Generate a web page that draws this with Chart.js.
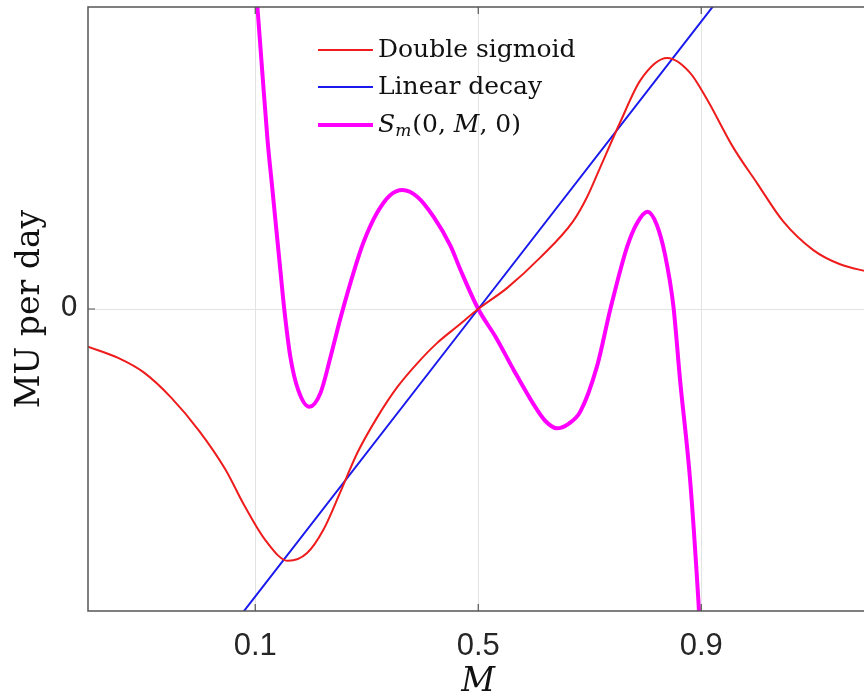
<!DOCTYPE html>
<html>
<head>
<meta charset="utf-8">
<script src="https://cdn.jsdelivr.net/npm/chart.js@4.4.0/dist/chart.umd.min.js"></script>
<style>
  html, body { margin: 0; padding: 0; overflow: hidden; background: #fff; }
  #wrap { width: 880px; height: 695px; }
</style>
</head>
<body>
<div id="wrap"><canvas id="chart" width="880" height="695"></canvas></div>
<script>
// values (y in arbitrary units, 0 at centre)
const sigmoidX = [-0.2, -0.146, -0.1, -0.05, 0.0, 0.046, 0.082, 0.118, 0.159, 0.193, 0.222, 0.252, 0.283, 0.319, 0.355, 0.391, 0.426, 0.462, 0.5,
  0.552, 0.611, 0.67, 0.695, 0.719, 0.755, 0.791, 0.839, 0.88, 0.911, 0.957, 1.0, 1.047, 1.101, 1.149, 1.2];
const sigmoidY = [-0.125, -0.162, -0.21, -0.295, -0.405, -0.53, -0.656, -0.765, -0.834, -0.808, -0.732, -0.609, -0.477, -0.358, -0.258, -0.179, -0.113, -0.058, 0,
  0.07, 0.17, 0.29, 0.37, 0.47, 0.62, 0.758, 0.831, 0.782, 0.692, 0.536, 0.417, 0.29, 0.195, 0.148, 0.123];

const linearX = [0.0, 0.5, 1.0];
const linearY = [-1.19, 0, 1.19];

const smX = [0.09, 0.104, 0.112, 0.122, 0.13, 0.138, 0.145, 0.152, 0.163, 0.177, 0.197, 0.217, 0.235, 0.252, 0.276, 0.294, 0.319, 0.342, 0.364,
  0.391, 0.42, 0.45, 0.468, 0.5, 0.532, 0.563, 0.599, 0.62, 0.641, 0.662, 0.683, 0.713, 0.737, 0.767, 0.785, 0.8035, 0.82, 0.835, 0.85, 0.862, 0.88, 0.895, 0.905];
const smY = [1.35, 0.997, 0.80, 0.56, 0.41, 0.26, 0.129, 0.0, -0.159, -0.268, -0.324, -0.278, -0.159, -0.036, 0.119, 0.22, 0.32, 0.377, 0.394,
  0.371, 0.305, 0.21, 0.13, 0, -0.095, -0.2, -0.315, -0.37, -0.395, -0.38, -0.34, -0.19, 0.0, 0.206, 0.285, 0.322, 0.28, 0.18, 0.01, -0.235, -0.566, -0.97, -1.3];

const seriesLabels = ['Double sigmoid', 'Linear decay', 'S_m(0, M, 0)'];
const xTicks = [0.1, 0.5, 0.9];
const yTicks = [0];

const pts = (xs, ys) => xs.map((x, i) => ({ x: x, y: ys[i] }));

const axisColor = '#555555';

// box + inward tick marks, MATLAB style
const boxPlugin = {
  id: 'box',
  afterDatasetsDraw(chart) {
    const { ctx, chartArea: a, scales } = chart;
    ctx.save();
    ctx.strokeStyle = axisColor;
    ctx.lineWidth = 1.5;
    ctx.strokeRect(a.left, a.top, a.right - a.left, a.bottom - a.top);
    ctx.lineWidth = 1.2;
    ctx.beginPath();
    xTicks.forEach(v => {
      const px = scales.x.getPixelForValue(v);
      ctx.moveTo(px, a.bottom); ctx.lineTo(px, a.bottom - 7);
      ctx.moveTo(px, a.top); ctx.lineTo(px, a.top + 7);
    });
    yTicks.forEach(v => {
      const py = scales.y.getPixelForValue(v);
      ctx.moveTo(a.left, py); ctx.lineTo(a.left + 7, py);
    });
    ctx.stroke();
    ctx.restore();
  },
  afterDraw(chart) {
    // legend inside the axes, transparent background
    const { ctx } = chart;
    const x0 = 318, x1 = 373, tx = 378;
    const rows = [50, 87, 125];
    ctx.save();
    ctx.textBaseline = 'middle';
    chart.data.datasets.forEach((ds, i) => {
      const y = rows[i];
      ctx.strokeStyle = ds.borderColor;
      ctx.lineWidth = ds.borderWidth;
      ctx.beginPath(); ctx.moveTo(x0, y); ctx.lineTo(x1, y); ctx.stroke();
      ctx.fillStyle = '#111';
      if (i < 2) {
        ctx.font = '25px "DejaVu Serif"';
        ctx.fillText(seriesLabels[i], tx, y);
      } else {
        let x = tx;
        ctx.font = 'italic 25px "DejaVu Serif"';
        ctx.fillText('S', x, y); x += ctx.measureText('S').width;
        ctx.font = 'italic 17px "DejaVu Serif"';
        ctx.fillText('m', x, y + 7); x += ctx.measureText('m').width + 1;
        ctx.font = '25px "DejaVu Serif"';
        ctx.fillText('(0, ', x, y); x += ctx.measureText('(0, ').width;
        ctx.font = 'italic 25px "DejaVu Serif"';
        ctx.fillText('M', x, y); x += ctx.measureText('M').width;
        ctx.font = '25px "DejaVu Serif"';
        ctx.fillText(', 0)', x, y);
      }
    });
    ctx.restore();
  }
};

new Chart(document.getElementById('chart'), {
  type: 'line',
  data: {
    datasets: [
      {
        label: seriesLabels[0],
        data: pts(sigmoidX, sigmoidY),
        borderColor: '#ee1c1c',
        borderWidth: 2,
        cubicInterpolationMode: 'monotone',
        pointRadius: 0,
        clip: 0
      },
      {
        label: seriesLabels[1],
        data: pts(linearX, linearY),
        borderColor: '#1a1aee',
        borderWidth: 2,
        pointRadius: 0,
        clip: 0
      },
      {
        label: seriesLabels[2],
        data: pts(smX, smY),
        borderColor: '#ff00ff',
        borderWidth: 4,
        cubicInterpolationMode: 'monotone',
        pointRadius: 0,
        clip: 0
      }
    ]
  },
  options: {
    responsive: false,
    animation: false,
    devicePixelRatio: 1,
    layout: { padding: { top: 7, right: 11.5, left: 0, bottom: 0 } },
    plugins: { legend: { display: false }, tooltip: { enabled: false } },
    scales: {
      x: {
        type: 'linear',
        min: -0.2,
        max: 1.2,
        afterBuildTicks: s => { s.ticks = xTicks.map(v => ({ value: v })); },
        afterFit: s => { s.height = 84; s.paddingLeft = 0; s.paddingRight = 0; },
        grid: { color: '#e3e3e3', drawTicks: false, lineWidth: 1 },
        border: { display: false },
        ticks: {
          padding: 17,
          color: '#262626',
          font: { family: '"Liberation Sans", Arial, sans-serif', size: 31 },
          callback: v => String(v)
        },
        title: {
          display: true,
          text: 'M',
          color: '#111',
          font: { family: '"DejaVu Serif"', style: 'italic', size: 33, lineHeight: 1 },
          padding: { top: 0, bottom: -4 }
        }
      },
      y: {
        type: 'linear',
        min: -1,
        max: 1,
        afterBuildTicks: s => { s.ticks = yTicks.map(v => ({ value: v })); },
        afterFit: s => { s.width = 88; s.paddingTop = 0; s.paddingBottom = 0; },
        grid: { color: '#e3e3e3', drawTicks: false, lineWidth: 1 },
        border: { display: false },
        ticks: {
          padding: 10,
          color: '#262626',
          font: { family: '"DejaVu Sans"', size: 28 },
          callback: v => String(v)
        },
        title: {
          display: true,
          text: 'MU per day',
          color: '#111',
          font: { family: '"DejaVu Serif"', size: 33, lineHeight: 1 },
          padding: { top: 14, bottom: 0 }
        }
      }
    }
  },
  plugins: [boxPlugin]
});
</script>
</body>
</html>
